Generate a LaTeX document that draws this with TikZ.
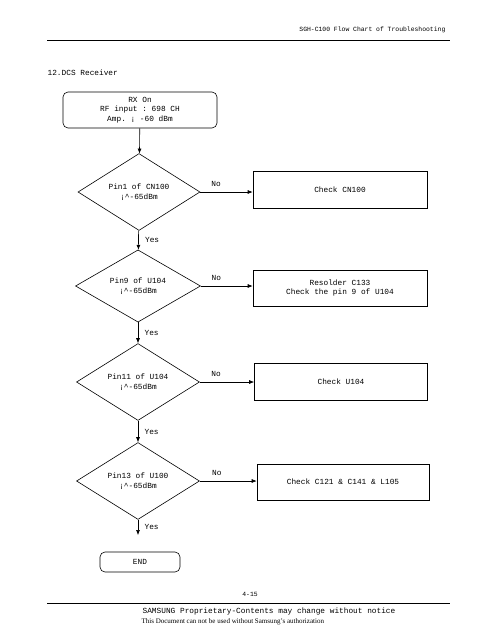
\documentclass[tikz,border=0pt]{standalone}
\usepackage{fontspec}
\setmainfont{Liberation Serif}
\setmonofont{Liberation Mono}
\usepackage{tikz}
\usetikzlibrary{arrows.meta}
\usetikzlibrary{shapes.geometric}
\usetikzlibrary{positioning}

\begin{document}
\begin{tikzpicture}[x=1pt,y=-1pt,line width=0.6pt,
        every node/.style={font=\ttfamily\fontsize{7.8}{9.4}\selectfont},
        terminal/.style={draw,rounded corners=5pt,align=center,inner sep=0pt},
        decision/.style={draw,diamond,align=center,inner sep=0pt},
        action/.style={draw,align=center,inner sep=0pt,minimum width=173pt,minimum height=37pt},
        flow/.style={-{Latex[length=5pt,width=4pt]}}]
        \useasboundingbox (0,0) rectangle (495,640);

        % header and footer
        \node[anchor=east,font=\ttfamily\fontsize{6.4}{7.5}\selectfont] (title) at (449,30) {SGH-C100 Flow Chart of Troubleshooting};
        \draw (47,40) -- (450,40);
        \node[anchor=west] (section) at (44,73) {12.DCS Receiver};

        \node[font=\ttfamily\fontsize{6.4}{7.5}\selectfont] (page) at (250,594) {4-15};
        \draw (47,603) -- (450,603);
        \node[anchor=west] (notice) at (139,611) {SAMSUNG Proprietary-Contents may change without notice};
        \node[anchor=west,font=\rmfamily\fontsize{7}{8}\selectfont] (auth) at (138,622) {This Document can not be used without Samsung's authorization};

        % flow
        \node[terminal,minimum width=154pt,minimum height=36pt] (rxon) at (140,110) {RX On\\RF input : 698 CH\\Amp. ¡ -60 dBm};

        \node[decision,minimum width=122pt,minimum height=75pt] (pin1) at (139,192) {Pin1 of CN100\\¡\textasciicircum{}-65dBm};
        \node[decision,minimum width=125pt,minimum height=68pt] (pin9) at (138,286) {Pin9 of U104\\¡\textasciicircum{}-65dBm};
        \node[decision,minimum width=123pt,minimum height=68pt] (pin11) at (138,382) {Pin11 of U104\\¡\textasciicircum{}-65dBm};
        \node[decision,minimum width=123pt,minimum height=66pt] (pin13) at (138,481) {Pin13 of U100\\¡\textasciicircum{}-65dBm};

        \node[action,minimum width=174pt,minimum height=37pt] (chkcn) at (340,190) {Check  CN100};
        \node[action,minimum width=174pt,minimum height=36pt] (resold) at (340,288) {Resolder C133\\Check the pin 9 of U104};
        \node[action,minimum width=173pt,minimum height=37pt] (chku) at (341,382) {Check U104};
        \node[action,minimum width=172pt,minimum height=36pt] (chkc) at (343,482) {Check C121 \& C141 \& L105};

        \node[terminal,minimum width=80pt,minimum height=20pt] (end) at (140,562) {END};
        \coordinate (last) at (138,535);

        \draw[flow] (rxon) -- (pin1);
        \draw[flow] (pin1) -- node[right,xshift=3pt] {Yes} (pin9);
        \draw[flow] (pin9) -- node[right,xshift=3pt] {Yes} (pin11);
        \draw[flow] (pin11) -- node[right,xshift=3pt] {Yes} (pin13);
        \draw[flow] (pin13.south) -- node[right,xshift=3pt,pos=0.45] {Yes} (last);

        \draw[flow] (pin1.east) -- node[above,pos=0.3,yshift=2pt] {No} (pin1.east -| chkcn.west);
        \draw[flow] (pin9.east) -- node[above,pos=0.3,yshift=2pt] {No} (pin9.east -| resold.west);
        \draw[flow] (pin11.east) -- node[above,pos=0.3,yshift=2pt] {No} (pin11.east -| chku.west);
        \draw[flow] (pin13.east) -- node[above,pos=0.3,yshift=2pt] {No} (pin13.east -| chkc.west);
\end{tikzpicture}
\end{document}
